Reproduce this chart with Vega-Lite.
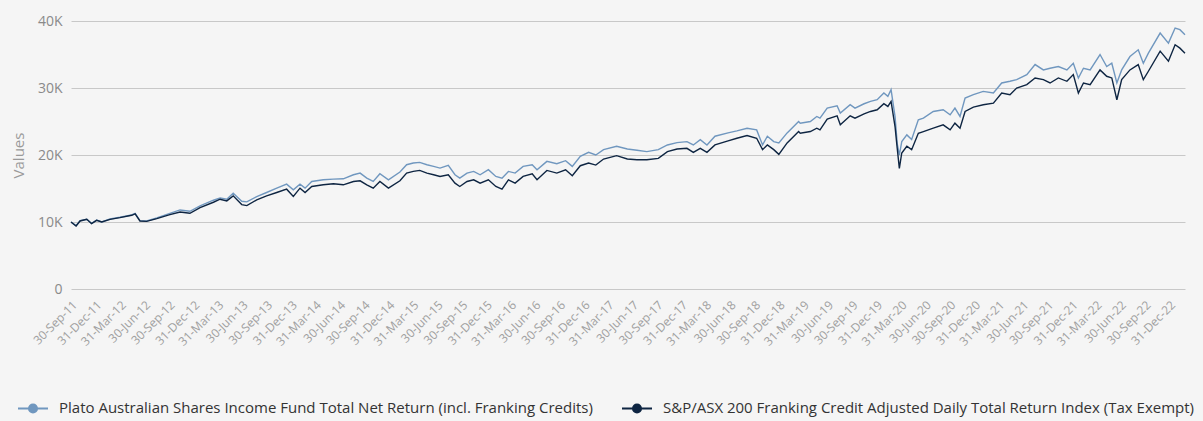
{
  "$schema": "https://vega.github.io/schema/vega-lite/v6.json",
  "width": 1114,
  "height": 268,
  "autosize": "none",
  "padding": {"left": 71, "top": 21, "right": 18, "bottom": 132},
  "background": "#f5f5f5",
  "config": {"font": "Open Sans", "view": {"stroke": null}},
  "data": {"values": [
    {"date": "2011-09-30", "fund": 10000, "index": 10000},
    {"date": "2011-10-19", "fund": 9450, "index": 9400},
    {"date": "2011-11-03", "fund": 10200, "index": 10150},
    {"date": "2011-11-28", "fund": 10400, "index": 10400},
    {"date": "2011-12-16", "fund": 9800, "index": 9750},
    {"date": "2012-01-04", "fund": 10300, "index": 10250},
    {"date": "2012-01-23", "fund": 10000, "index": 10000},
    {"date": "2012-02-23", "fund": 10450, "index": 10400},
    {"date": "2012-03-31", "fund": 10700, "index": 10650},
    {"date": "2012-05-14", "fund": 11050, "index": 11000},
    {"date": "2012-05-27", "fund": 11300, "index": 11200},
    {"date": "2012-06-14", "fund": 10200, "index": 10150},
    {"date": "2012-07-09", "fund": 10150, "index": 10100},
    {"date": "2012-08-16", "fund": 10600, "index": 10500},
    {"date": "2012-10-04", "fund": 11300, "index": 11100},
    {"date": "2012-11-11", "fund": 11800, "index": 11500},
    {"date": "2012-12-18", "fund": 11600, "index": 11300},
    {"date": "2013-01-25", "fund": 12400, "index": 12150},
    {"date": "2013-03-16", "fund": 13250, "index": 12950},
    {"date": "2013-04-10", "fund": 13600, "index": 13400},
    {"date": "2013-05-05", "fund": 13400, "index": 13150},
    {"date": "2013-05-29", "fund": 14300, "index": 13900},
    {"date": "2013-06-30", "fund": 13100, "index": 12600},
    {"date": "2013-07-19", "fund": 13000, "index": 12450},
    {"date": "2013-08-25", "fund": 13800, "index": 13300},
    {"date": "2013-10-01", "fund": 14400, "index": 13900},
    {"date": "2013-11-08", "fund": 15050, "index": 14400},
    {"date": "2013-12-15", "fund": 15650, "index": 14900},
    {"date": "2014-01-09", "fund": 14800, "index": 13800},
    {"date": "2014-02-03", "fund": 15650, "index": 15050},
    {"date": "2014-02-22", "fund": 15050, "index": 14400},
    {"date": "2014-03-19", "fund": 16050, "index": 15300},
    {"date": "2014-05-01", "fund": 16300, "index": 15550},
    {"date": "2014-06-08", "fund": 16400, "index": 15700},
    {"date": "2014-07-15", "fund": 16450, "index": 15550},
    {"date": "2014-08-22", "fund": 17050, "index": 16050},
    {"date": "2014-09-16", "fund": 17300, "index": 16150},
    {"date": "2014-10-11", "fund": 16550, "index": 15550},
    {"date": "2014-11-04", "fund": 16050, "index": 15050},
    {"date": "2014-11-29", "fund": 17200, "index": 16050},
    {"date": "2014-12-31", "fund": 16300, "index": 15050},
    {"date": "2015-02-12", "fund": 17450, "index": 16150},
    {"date": "2015-03-09", "fund": 18550, "index": 17300},
    {"date": "2015-04-03", "fund": 18800, "index": 17550},
    {"date": "2015-04-27", "fund": 18900, "index": 17700},
    {"date": "2015-05-24", "fund": 18550, "index": 17300},
    {"date": "2015-06-18", "fund": 18300, "index": 17050},
    {"date": "2015-07-12", "fund": 18050, "index": 16800},
    {"date": "2015-08-12", "fund": 18450, "index": 17050},
    {"date": "2015-09-06", "fund": 17050, "index": 15800},
    {"date": "2015-09-24", "fund": 16550, "index": 15300},
    {"date": "2015-10-21", "fund": 17300, "index": 16050},
    {"date": "2015-11-15", "fund": 17550, "index": 16300},
    {"date": "2015-12-09", "fund": 17050, "index": 15800},
    {"date": "2016-01-09", "fund": 17800, "index": 16300},
    {"date": "2016-02-06", "fund": 16800, "index": 15300},
    {"date": "2016-02-29", "fund": 16550, "index": 14900},
    {"date": "2016-03-24", "fund": 17550, "index": 16300},
    {"date": "2016-04-18", "fund": 17300, "index": 15800},
    {"date": "2016-05-18", "fund": 18300, "index": 16800},
    {"date": "2016-06-21", "fund": 18550, "index": 17200},
    {"date": "2016-07-09", "fund": 17800, "index": 16300},
    {"date": "2016-08-15", "fund": 19050, "index": 17700},
    {"date": "2016-09-21", "fund": 18700, "index": 17300},
    {"date": "2016-10-24", "fund": 19150, "index": 17800},
    {"date": "2016-11-18", "fund": 18300, "index": 16900},
    {"date": "2016-12-18", "fund": 19800, "index": 18400},
    {"date": "2017-01-18", "fund": 20400, "index": 18800},
    {"date": "2017-02-14", "fund": 20000, "index": 18500},
    {"date": "2017-03-15", "fund": 20800, "index": 19400},
    {"date": "2017-05-03", "fund": 21300, "index": 19900},
    {"date": "2017-06-12", "fund": 20900, "index": 19400},
    {"date": "2017-07-18", "fund": 20700, "index": 19300},
    {"date": "2017-08-24", "fund": 20500, "index": 19300},
    {"date": "2017-10-06", "fund": 20800, "index": 19500},
    {"date": "2017-11-09", "fund": 21500, "index": 20500},
    {"date": "2017-12-15", "fund": 21850, "index": 20900},
    {"date": "2018-01-21", "fund": 22000, "index": 21000},
    {"date": "2018-02-14", "fund": 21500, "index": 20400},
    {"date": "2018-03-12", "fund": 22300, "index": 21000},
    {"date": "2018-04-06", "fund": 21500, "index": 20400},
    {"date": "2018-05-06", "fund": 22800, "index": 21500},
    {"date": "2018-06-24", "fund": 23300, "index": 22100},
    {"date": "2018-07-27", "fund": 23600, "index": 22500},
    {"date": "2018-09-03", "fund": 24000, "index": 22900},
    {"date": "2018-10-09", "fund": 23750, "index": 22500},
    {"date": "2018-10-31", "fund": 21500, "index": 20800},
    {"date": "2018-11-18", "fund": 22800, "index": 21500},
    {"date": "2018-12-12", "fund": 22000, "index": 20800},
    {"date": "2018-12-31", "fund": 21800, "index": 20100},
    {"date": "2019-01-31", "fund": 23300, "index": 21800},
    {"date": "2019-03-15", "fund": 25000, "index": 23500},
    {"date": "2019-03-21", "fund": 24750, "index": 23250},
    {"date": "2019-04-28", "fund": 25000, "index": 23500},
    {"date": "2019-05-22", "fund": 25750, "index": 24000},
    {"date": "2019-06-03", "fund": 25500, "index": 23750},
    {"date": "2019-06-30", "fund": 27000, "index": 25350},
    {"date": "2019-08-06", "fund": 27350, "index": 25850},
    {"date": "2019-08-18", "fund": 26250, "index": 24500},
    {"date": "2019-09-24", "fund": 27500, "index": 25850},
    {"date": "2019-10-12", "fund": 27000, "index": 25500},
    {"date": "2019-11-15", "fund": 27650, "index": 26150},
    {"date": "2019-12-09", "fund": 28000, "index": 26500},
    {"date": "2020-01-03", "fund": 28250, "index": 26750},
    {"date": "2020-01-28", "fund": 29250, "index": 27650},
    {"date": "2020-02-12", "fund": 28750, "index": 27250},
    {"date": "2020-02-24", "fund": 29750, "index": 28000},
    {"date": "2020-03-10", "fund": 25700, "index": 24200},
    {"date": "2020-03-18", "fund": 21700, "index": 21000},
    {"date": "2020-03-26", "fund": 20000, "index": 18000},
    {"date": "2020-04-04", "fund": 22000, "index": 20300},
    {"date": "2020-04-23", "fund": 23000, "index": 21300},
    {"date": "2020-05-11", "fund": 22300, "index": 20800},
    {"date": "2020-06-05", "fund": 25250, "index": 23250},
    {"date": "2020-06-24", "fund": 25500, "index": 23500},
    {"date": "2020-07-31", "fund": 26500, "index": 24000},
    {"date": "2020-09-06", "fund": 26750, "index": 24500},
    {"date": "2020-10-02", "fund": 26000, "index": 23750},
    {"date": "2020-10-20", "fund": 27000, "index": 24750},
    {"date": "2020-11-08", "fund": 25750, "index": 24000},
    {"date": "2020-11-27", "fund": 28500, "index": 26500},
    {"date": "2020-12-28", "fund": 29000, "index": 27150},
    {"date": "2021-02-03", "fund": 29500, "index": 27500},
    {"date": "2021-03-13", "fund": 29250, "index": 27750},
    {"date": "2021-04-13", "fund": 30750, "index": 29250},
    {"date": "2021-05-14", "fund": 31000, "index": 29000},
    {"date": "2021-06-08", "fund": 31250, "index": 30000},
    {"date": "2021-07-16", "fund": 32000, "index": 30500},
    {"date": "2021-08-16", "fund": 33500, "index": 31500},
    {"date": "2021-09-16", "fund": 32700, "index": 31250},
    {"date": "2021-10-11", "fund": 32950, "index": 30750},
    {"date": "2021-11-11", "fund": 33200, "index": 31500},
    {"date": "2021-12-13", "fund": 32700, "index": 31000},
    {"date": "2022-01-06", "fund": 33700, "index": 32000},
    {"date": "2022-01-25", "fund": 31500, "index": 29250},
    {"date": "2022-02-13", "fund": 32950, "index": 30750},
    {"date": "2022-03-10", "fund": 32700, "index": 30500},
    {"date": "2022-04-16", "fund": 35000, "index": 32700},
    {"date": "2022-05-11", "fund": 33200, "index": 31750},
    {"date": "2022-05-30", "fund": 33700, "index": 31500},
    {"date": "2022-06-18", "fund": 30750, "index": 28250},
    {"date": "2022-07-06", "fund": 32700, "index": 31250},
    {"date": "2022-08-06", "fund": 34700, "index": 32700},
    {"date": "2022-09-06", "fund": 35700, "index": 33500},
    {"date": "2022-09-25", "fund": 33700, "index": 31250},
    {"date": "2022-10-14", "fund": 35200, "index": 32500},
    {"date": "2022-11-27", "fund": 38200, "index": 35500},
    {"date": "2022-12-28", "fund": 36700, "index": 34000},
    {"date": "2023-01-22", "fund": 38950, "index": 36450},
    {"date": "2023-02-09", "fund": 38700, "index": 35950},
    {"date": "2023-02-28", "fund": 37950, "index": 35200}
  ]},
  "transform": [{"fold": ["fund", "index"], "as": ["series", "value"]}],
  "mark": {"type": "line", "strokeWidth": 1.4, "interpolate": "linear"},
  "encoding": {
    "x": {
      "field": "date", "type": "temporal",
      "scale": {"type": "utc", "domain": [{"year": 2011, "month": 9, "date": 30, "utc": true}, {"year": 2023, "month": 2, "date": 28, "utc": true}]},
      "axis": {
        "title": null, "grid": false, "domain": false, "ticks": false,
        "labelExpr": "utcFormat(datum.value, '%d-%b-%y')",
        "labelAngle": -45, "labelFontSize": 12, "labelColor": "#a0a0a0", "labelPadding": 10, "labelDx": 3,
        "labelOverlap": false, "labelFlush": false,
        "values": [
          {"year": 2011, "month": 9, "date": 30, "utc": true}, {"year": 2011, "month": 12, "date": 31, "utc": true},
          {"year": 2012, "month": 3, "date": 31, "utc": true}, {"year": 2012, "month": 6, "date": 30, "utc": true}, {"year": 2012, "month": 9, "date": 30, "utc": true}, {"year": 2012, "month": 12, "date": 31, "utc": true},
          {"year": 2013, "month": 3, "date": 31, "utc": true}, {"year": 2013, "month": 6, "date": 30, "utc": true}, {"year": 2013, "month": 9, "date": 30, "utc": true}, {"year": 2013, "month": 12, "date": 31, "utc": true},
          {"year": 2014, "month": 3, "date": 31, "utc": true}, {"year": 2014, "month": 6, "date": 30, "utc": true}, {"year": 2014, "month": 9, "date": 30, "utc": true}, {"year": 2014, "month": 12, "date": 31, "utc": true},
          {"year": 2015, "month": 3, "date": 31, "utc": true}, {"year": 2015, "month": 6, "date": 30, "utc": true}, {"year": 2015, "month": 9, "date": 30, "utc": true}, {"year": 2015, "month": 12, "date": 31, "utc": true},
          {"year": 2016, "month": 3, "date": 31, "utc": true}, {"year": 2016, "month": 6, "date": 30, "utc": true}, {"year": 2016, "month": 9, "date": 30, "utc": true}, {"year": 2016, "month": 12, "date": 31, "utc": true},
          {"year": 2017, "month": 3, "date": 31, "utc": true}, {"year": 2017, "month": 6, "date": 30, "utc": true}, {"year": 2017, "month": 9, "date": 30, "utc": true}, {"year": 2017, "month": 12, "date": 31, "utc": true},
          {"year": 2018, "month": 3, "date": 31, "utc": true}, {"year": 2018, "month": 6, "date": 30, "utc": true}, {"year": 2018, "month": 9, "date": 30, "utc": true}, {"year": 2018, "month": 12, "date": 31, "utc": true},
          {"year": 2019, "month": 3, "date": 31, "utc": true}, {"year": 2019, "month": 6, "date": 30, "utc": true}, {"year": 2019, "month": 9, "date": 30, "utc": true}, {"year": 2019, "month": 12, "date": 31, "utc": true},
          {"year": 2020, "month": 3, "date": 31, "utc": true}, {"year": 2020, "month": 6, "date": 30, "utc": true}, {"year": 2020, "month": 9, "date": 30, "utc": true}, {"year": 2020, "month": 12, "date": 31, "utc": true},
          {"year": 2021, "month": 3, "date": 31, "utc": true}, {"year": 2021, "month": 6, "date": 30, "utc": true}, {"year": 2021, "month": 9, "date": 30, "utc": true}, {"year": 2021, "month": 12, "date": 31, "utc": true},
          {"year": 2022, "month": 3, "date": 31, "utc": true}, {"year": 2022, "month": 6, "date": 30, "utc": true}, {"year": 2022, "month": 9, "date": 30, "utc": true}, {"year": 2022, "month": 12, "date": 31, "utc": true}
        ]
      }
    },
    "y": {
      "field": "value", "type": "quantitative",
      "scale": {"domain": [0, 40000], "nice": false, "zero": true},
      "axis": {
        "title": "Values", "titleFontSize": 15, "titleFontWeight": "normal", "titleColor": "#9a9a9a",
        "titleAngle": -90, "titleX": -48, "titleY": 134, "titleBaseline": "alphabetic", "titleAlign": "center",
        "values": [0, 10000, 20000, 30000, 40000],
        "labelExpr": "datum.value === 0 ? '0' : (datum.value / 1000) + 'K'",
        "labelFontSize": 14, "labelColor": "#8a8a8a", "labelPadding": 9,
        "grid": true, "gridColor": "#c8c8c8", "gridWidth": 1,
        "domain": false, "ticks": false
      }
    },
    "color": {
      "field": "series", "type": "nominal",
      "scale": {"domain": ["fund", "index"], "range": ["#7097bf", "#0e2542"]},
      "legend": {
        "orient": "none", "legendX": -54, "legendY": 371, "direction": "horizontal",
        "title": null, "padding": 0,
        "symbolType": "M-1,0L1,0M0.27,0A0.27,0.27 0 1,1 -0.27,0A0.27,0.27 0 1,1 0.27,0Z",
        "symbolSize": 900, "symbolStrokeWidth": 2,
        "labelFontSize": 15, "labelColor": "#333333", "labelOffset": 10, "labelLimit": 1000,
        "columnPadding": 25,
        "labelExpr": "datum.value == 'fund' ? 'Plato Australian Shares Income Fund Total Net Return (incl. Franking Credits)' : 'S&P/ASX 200 Franking Credit Adjusted Daily Total Return Index (Tax Exempt)'",
        "encode": {"symbols": {"update": {"fill": {"scale": "color", "field": "value"}}}}
      }
    }
  }
}
